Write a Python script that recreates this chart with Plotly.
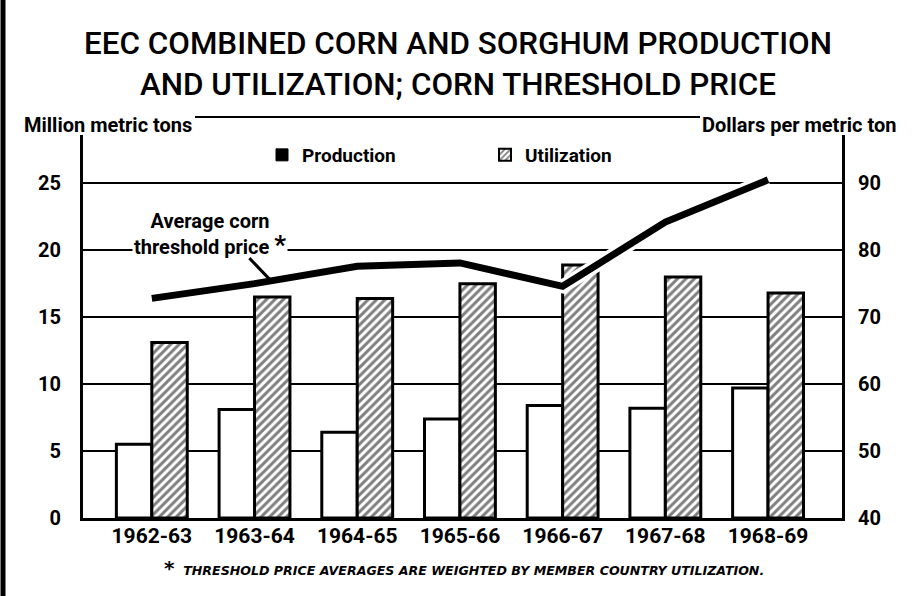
import plotly.graph_objects as go

# ---- data ----
years = ["1962-63", "1963-64", "1964-65", "1965-66", "1966-67", "1967-68", "1968-69"]
production = [5.5, 8.1, 6.4, 7.4, 8.4, 8.2, 9.7]          # million metric tons
utilization = [13.1, 16.5, 16.4, 17.5, 18.9, 18.0, 16.8]  # million metric tons
threshold_price = [72.8, 75.0, 77.6, 78.1, 74.6, 84.2, 90.5]  # dollars per metric ton
left_ticks = [0, 5, 10, 15, 20, 25]
right_ticks = [40, 50, 60, 70, 80, 90]

FONT = "Roboto, Liberation Sans, sans-serif"
W, H = 916, 596
L, R, T, B = 83, 842, 135, 518


def px(x):
    return (x - L) / (R - L)


def py(y):
    return (B - y) / (B - T)


fig = go.Figure()

fig.add_trace(go.Bar(
    x=years, y=production, name="Production", showlegend=False,
    marker=dict(color="white", line=dict(color="black", width=3)),
    offsetgroup="p", yaxis="y"))
fig.add_trace(go.Bar(
    x=years, y=utilization, name="Utilization", showlegend=False,
    marker=dict(color="white", line=dict(color="black", width=3),
                pattern=dict(shape="/", fgcolor="black", bgcolor="white", size=6, solidity=0.5)),
    offsetgroup="u", yaxis="y"))
# legend-only entries
fig.add_trace(go.Bar(x=[None], y=[None], name="Production",
                     marker=dict(color="black", line=dict(color="black", width=1))))
fig.add_trace(go.Bar(x=[None], y=[None], name="Utilization",
                     marker=dict(color="white", line=dict(color="black", width=2),
                                 pattern=dict(shape="/", fgcolor="black", bgcolor="white", size=5, solidity=0.45))))

# price line with white halo
fig.add_trace(go.Scatter(x=years, y=threshold_price, mode="lines", yaxis="y2", showlegend=False,
                         line=dict(color="white", width=14), hoverinfo="skip"))
fig.add_trace(go.Scatter(x=years, y=threshold_price, mode="lines", yaxis="y2", showlegend=False,
                         name="Average corn threshold price", line=dict(color="black", width=7)))

tickfont = dict(family=FONT, size=20, color="black", weight="bold")
xtickfont = dict(family=FONT, size=21, color="black", weight="bold")

fig.update_layout(
    width=W, height=H,
    margin=dict(l=L, r=W - R, t=T, b=H - B),
    paper_bgcolor="white", plot_bgcolor="white",
    barmode="group", bargap=0.31, bargroupgap=0,
    font=dict(family=FONT, color="black"),
    title=dict(text="EEC COMBINED CORN AND SORGHUM PRODUCTION<br>AND UTILIZATION; CORN THRESHOLD PRICE",
               x=0.5, xanchor="center", y=1 - 54 / H, yanchor="middle",
               font=dict(family=FONT, size=31.4, color="black", weight=500)),
    xaxis=dict(type="category", range=[-0.67, 6.72], showgrid=False,
               showline=True, linecolor="black", linewidth=3,
               ticks="", tickfont=xtickfont, ticklabelstandoff=-3, zeroline=False),
    yaxis=dict(range=[0, 28.6], tickvals=left_ticks, showgrid=True, gridcolor="black", gridwidth=1.8,
               showline=True, linecolor="black", linewidth=3, zeroline=False,
               ticks="", tickfont=tickfont, ticklabelstandoff=15),
    yaxis2=dict(range=[40, 97.2], tickvals=right_ticks, overlaying="y", side="right",
                showgrid=False, showline=True, linecolor="black", linewidth=3, zeroline=False,
                ticks="", tickfont=tickfont, ticklabelstandoff=9),
    legend=dict(orientation="h", x=px(262), y=py(155), xanchor="left", yanchor="middle",
                entrywidth=178, entrywidthmode="pixels", bgcolor="rgba(0,0,0,0)",
                font=dict(family=FONT, size=19, color="black", weight="bold")),
)

fig.add_annotation(xref="paper", yref="paper", x=px(22), y=py(125), xanchor="left", yanchor="middle",
                   text="Million metric tons", showarrow=False,
                   font=dict(family=FONT, size=20, color="black", weight="bold"))
fig.add_annotation(xref="paper", yref="paper", x=px(700), y=py(125), xanchor="left", yanchor="middle",
                   text="Dollars per metric ton", showarrow=False,
                   font=dict(family=FONT, size=20, color="black", weight="bold"))
fig.add_annotation(xref="paper", yref="paper", x=px(210), y=py(234), xanchor="center", yanchor="middle",
                   text="Average corn<br>threshold price <span style='font-size:26px'>*</span>",
                   showarrow=False, bgcolor="white", borderpad=1,
                   font=dict(family=FONT, size=20, color="black", weight="bold"))
fig.add_annotation(xref="x", yref="y2", x=1.15, y=75.6, text="", showarrow=True,
                   arrowhead=0, arrowwidth=3, arrowcolor="black", ax=-22, ay=-23)
fig.add_annotation(xref="paper", yref="paper", x=px(162), y=py(568), xanchor="left", yanchor="middle",
                   text="<span style='font-size:20px'>*</span>  THRESHOLD PRICE AVERAGES ARE WEIGHTED BY MEMBER COUNTRY UTILIZATION.",
                   showarrow=False,
                   font=dict(family="DejaVu Sans, sans-serif", size=12.6, color="black",
                             weight="bold", style="italic"))

# frame lines
fig.add_shape(type="line", xref="paper", yref="paper", x0=px(195), x1=px(700), y0=py(117), y1=py(117),
              line=dict(color="black", width=2))
fig.add_shape(type="line", xref="paper", yref="paper", x0=px(3), x1=px(3), y0=py(0), y1=py(596),
              line=dict(color="black", width=5))

fig.write_html("out.html", config={"displayModeBar": False},
               post_script="document.body.style.margin='0px';")
